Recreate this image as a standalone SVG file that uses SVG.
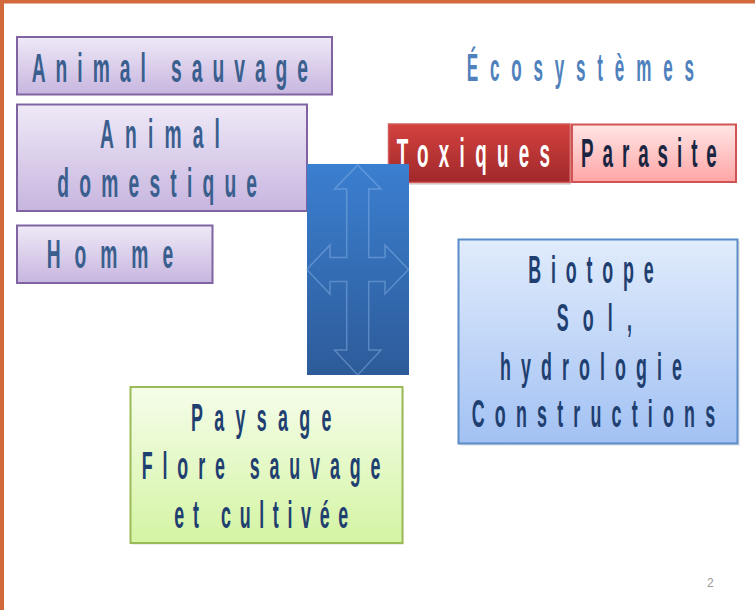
<svg xmlns="http://www.w3.org/2000/svg" width="755" height="610" viewBox="0 0 755 610">
<defs>
<linearGradient id="gPurple" x1="0" y1="0" x2="0" y2="1"><stop offset="0" stop-color="#EFE9F7"/><stop offset="1" stop-color="#C7B5DF"/></linearGradient>
<linearGradient id="gRed" x1="0" y1="0" x2="0" y2="1"><stop offset="0" stop-color="#D3423F"/><stop offset="1" stop-color="#A0282A"/></linearGradient>
<linearGradient id="gPink" x1="0" y1="0" x2="0" y2="1"><stop offset="0" stop-color="#FFE6E6"/><stop offset="1" stop-color="#FFA5A5"/></linearGradient>
<linearGradient id="gBlue" x1="0" y1="0" x2="0" y2="1"><stop offset="0" stop-color="#3B7FD0"/><stop offset="1" stop-color="#2D5B99"/></linearGradient>
<linearGradient id="gSky" x1="0" y1="0" x2="0" y2="1"><stop offset="0" stop-color="#E1ECFC"/><stop offset="1" stop-color="#A2C1F3"/></linearGradient>
<linearGradient id="gGreen" x1="0" y1="0" x2="0" y2="1"><stop offset="0" stop-color="#F5FDEA"/><stop offset="1" stop-color="#D4F4A3"/></linearGradient>
</defs>
<style>
text{font-family:"Liberation Sans",Arial,sans-serif;font-weight:bold;}
.pu{fill:#3A5F8E;}
.nv{fill:#1F3F70;}
.wh{fill:#FFFFFF;}
.dk{fill:#1A2542;}
.eco{fill:#4F81BD;}
.box{stroke-width:2;}
</style>
<rect x="0" y="0" width="755" height="610" fill="#FFFFFF"/>
<rect x="0" y="0" width="755" height="3.5" fill="#D2693A"/>
<rect x="0" y="0" width="4" height="610" fill="#D2693A"/>

<g id="animal-sauvage">
<rect class="box" x="17" y="37" width="315" height="57.5" fill="url(#gPurple)" stroke="#8064A2"/>
<text class="pu" font-size="41" transform="translate(31.7,81.5) scale(0.47,1)" textLength="588" lengthAdjust="spacing">Animal sauvage</text>
</g>
<g id="animal-domestique">
<rect class="box" x="17" y="104.5" width="290" height="106.5" fill="url(#gPurple)" stroke="#8064A2"/>
<text class="pu" font-size="41" transform="translate(100,147.7) scale(0.47,1)" textLength="255" lengthAdjust="spacing">Animal</text>
<text class="pu" font-size="41" transform="translate(57.3,196.7) scale(0.47,1)" textLength="425" lengthAdjust="spacing">domestique</text>
</g>
<g id="homme">
<rect class="box" x="17" y="225.5" width="195.5" height="57.5" fill="url(#gPurple)" stroke="#8064A2"/>
<text class="pu" font-size="41" transform="translate(46.7,268) scale(0.47,1)" textLength="269" lengthAdjust="spacing">Homme</text>
</g>

<g id="ecosystemes">
<text class="eco" font-size="38" transform="translate(466.7,80.7) scale(0.45,1)" textLength="505" lengthAdjust="spacing">Écosystèmes</text>
</g>

<g id="toxiques">
<rect x="390" y="126" width="181" height="59" fill="#000000" opacity="0.12"/>
<rect x="388.5" y="124" width="181.5" height="58.5" fill="url(#gRed)" stroke="#D25E5C" stroke-width="1.5"/>
<text class="wh" font-size="40" transform="translate(396.7,166.7) scale(0.47,1)" textLength="326" lengthAdjust="spacing">Toxiques</text>
</g>
<g id="parasite">
<rect class="box" x="572" y="124.5" width="164" height="57.5" fill="url(#gPink)" stroke="#D05454"/>
<text class="dk" font-size="40" transform="translate(581,167) scale(0.47,1)" textLength="289" lengthAdjust="spacing">Parasite</text>
</g>

<g id="cross">
<rect x="307" y="164" width="102" height="211" fill="url(#gBlue)"/>
</g>

<g id="connectors">
<path d="M357.7,165 L381,189 L368.7,189 L368.7,257.5 L385,257.5 L385,245 L408.5,269.5 L385,294 L385,281.5 L368.7,281.5 L368.7,350 L381,350 L357.7,375 L334.5,350 L346.7,350 L346.7,281.5 L330,281.5 L330,294 L306.7,269.5 L330,245 L330,257.5 L346.7,257.5 L346.7,189 L334.5,189 Z" fill="none" stroke="#8FB8EC" stroke-opacity="0.45" stroke-width="1.5"/>
</g>

<g id="biotope">
<rect x="460" y="241" width="280" height="205" fill="#000000" opacity="0.08"/>
<rect class="box" x="458.5" y="239.5" width="279" height="204" fill="url(#gSky)" stroke="#5B8CC8"/>
<text class="nv" font-size="38" transform="translate(528.3,282.5) scale(0.47,1)" textLength="267" lengthAdjust="spacing">Biotope</text>
<text class="nv" font-size="38" transform="translate(556.7,331.2) scale(0.47,1)" textLength="160" lengthAdjust="spacing">Sol,</text>
<text class="nv" font-size="38" transform="translate(500,380) scale(0.47,1)" textLength="387" lengthAdjust="spacing">hydrologie</text>
<text class="nv" font-size="38" transform="translate(471.7,426.7) scale(0.47,1)" textLength="518" lengthAdjust="spacing">Constructions</text>
</g>

<g id="paysage">
<rect x="132" y="389" width="272" height="156" fill="#000000" opacity="0.07"/>
<rect class="box" x="130.5" y="387" width="272" height="156" fill="url(#gGreen)" stroke="#9BBB59"/>
<text class="nv" font-size="38" transform="translate(191,430.7) scale(0.47,1)" textLength="299" lengthAdjust="spacing">Paysage</text>
<text class="nv" font-size="38" transform="translate(141.7,479.3) scale(0.47,1)" textLength="508" lengthAdjust="spacing">Flore sauvage</text>
<text class="nv" font-size="38" transform="translate(174.3,527.7) scale(0.47,1)" textLength="370" lengthAdjust="spacing">et cultivée</text>
</g>

<text x="707" y="587" font-size="12" fill="#9A9A9A" style="font-weight:normal">2</text>
</svg>
